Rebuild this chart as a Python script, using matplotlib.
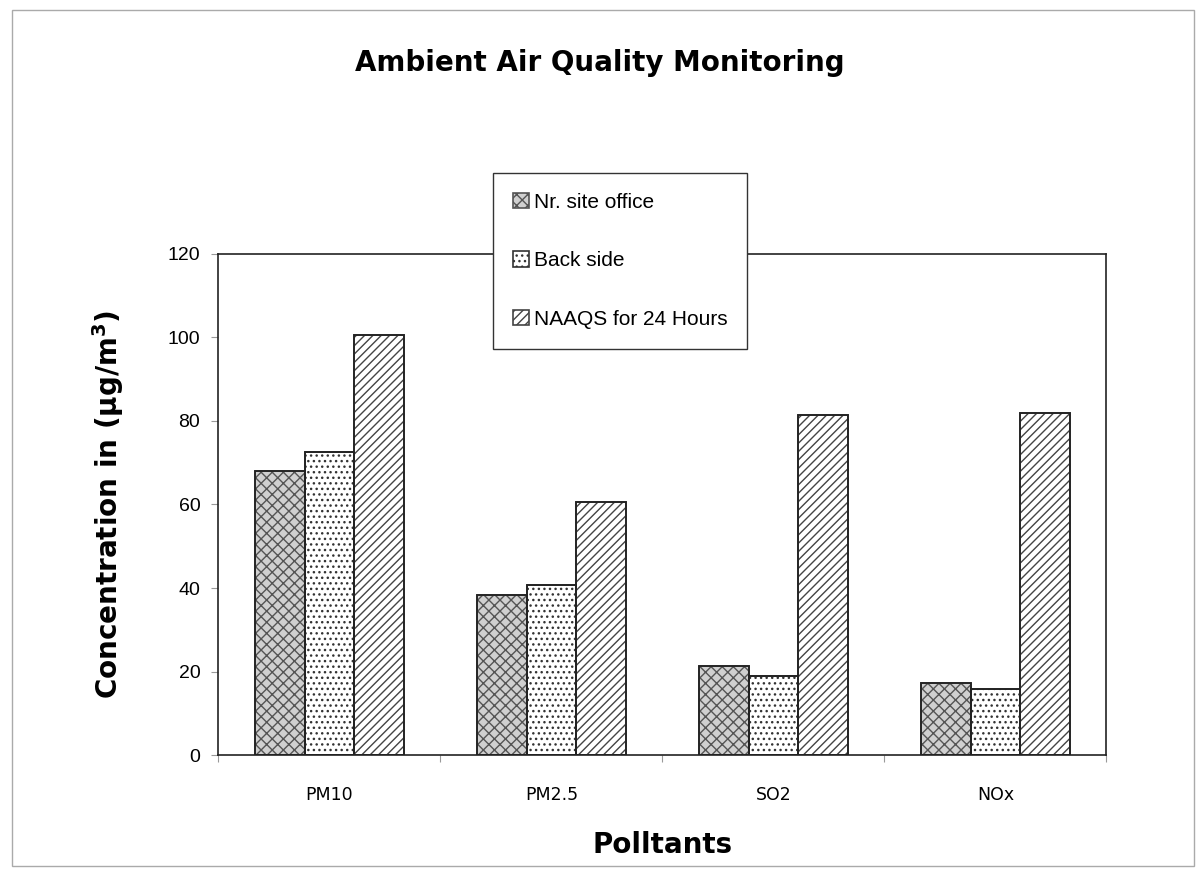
import numpy as np
import matplotlib
matplotlib.use('Agg')
import matplotlib.pyplot as plt
from matplotlib.patches import Rectangle

pollutants = ['PM10', 'PM2.5', 'SO2', 'NOx']
site_office = [68, 38.3, 21.3, 17.3]
back_side = [72.5, 40.7, 18.9, 15.8]
naaqs_24h = [100.5, 60.6, 81.5, 81.8]
series_names = ['Nr. site office', 'Back side', 'NAAQS for 24 Hours']
y_ticks = [0, 20, 40, 60, 80, 100, 120]

plt.rcParams['hatch.linewidth'] = 1.0

fig = plt.figure(figsize=(12, 8.69), dpi=100)
ax = fig.add_axes([0.182, 0.131, 0.740, 0.577])

x = np.arange(len(pollutants))
w = 0.223
b1 = ax.bar(x - w, site_office, w, facecolor='#d0d0d0', edgecolor='#555555',
            hatch='xxx', linewidth=1.2, label=series_names[0])
b2 = ax.bar(x, back_side, w, facecolor='white', edgecolor='#333333',
            hatch='...', linewidth=1.2, label=series_names[1])
b3 = ax.bar(x + w, naaqs_24h, w, facecolor='white', edgecolor='#444444',
            hatch='////', linewidth=1.2, label=series_names[2])
# darker outline edges for the bars
for bars in (b1, b2, b3):
    for r in bars:
        ax.add_patch(Rectangle(r.get_xy(), r.get_width(), r.get_height(),
                               fill=False, edgecolor='#222222', linewidth=1.3))

ax.set_xlim(-0.5, len(pollutants) - 0.5)
ax.set_ylim(0, 120)
ax.set_yticks(y_ticks)
ax.set_yticklabels([str(t) for t in y_ticks], fontsize=14,
                   fontfamily='Liberation Sans')
ax.set_xticks(np.arange(len(pollutants) + 1) - 0.5)
ax.set_xticklabels([])
ax.set_xticks(x, minor=True)
ax.set_xticklabels(pollutants, minor=True, fontsize=12.5, fontfamily='DejaVu Sans')
ax.tick_params(axis='x', which='minor', length=0, pad=22)
ax.tick_params(axis='x', which='major', length=5, color='#999999', direction='out')
ax.tick_params(axis='y', length=5, color='#999999', direction='out', pad=8)
for s in ax.spines.values():
    s.set_linewidth(1.2)
    s.set_color('#222222')

ax.set_ylabel('Concentration in (µg/m$^\\mathbf{3}$)', fontsize=20,
              fontweight='bold', labelpad=30)
ax.set_xlabel('Polltants', fontsize=20, fontweight='bold', labelpad=20)
fig.text(0.5, 0.928, 'Ambient Air Quality Monitoring', ha='center', va='center',
         fontsize=20, fontweight='bold')

leg = fig.legend(handles=[b1, b2, b3], loc='upper left',
                 bbox_to_anchor=(0.411, 0.801), frameon=True, fancybox=False,
                 edgecolor='#333333', framealpha=1, handlelength=0.75,
                 handleheight=0.75, handletextpad=0.25, labelspacing=1.9,
                 borderpad=0.95, borderaxespad=0,
                 prop={'family': 'Liberation Sans', 'size': 15})
leg.get_frame().set_linewidth(1.0)

# scanned page border
fig.add_artist(Rectangle((0.01, 0.004), 0.985, 0.984, transform=fig.transFigure,
                         fill=False, edgecolor='#aaaaaa', linewidth=1.0))

fig.savefig('out.png', dpi=100)
